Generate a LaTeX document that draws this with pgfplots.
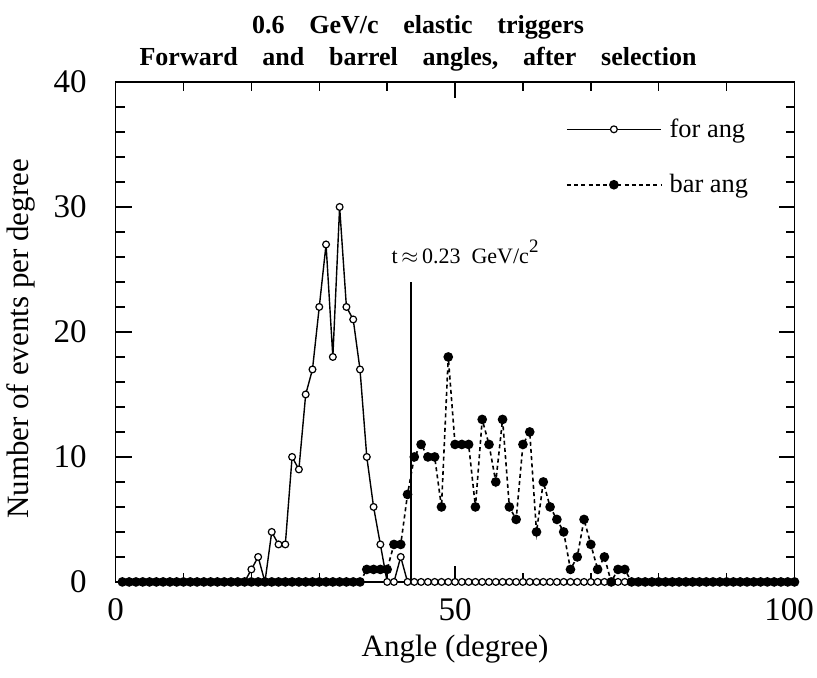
\documentclass[border=0pt]{standalone}
\usepackage{fontspec}
\setmainfont{Liberation Serif}
\usepackage{pgfplots}
\pgfplotsset{compat=1.18}
\usetikzlibrary{calc}
\newcommand{\wsp}{\hspace{0.95em}}
\begin{document}
\begin{tikzpicture}
\begin{axis}[
  name=ax,
  scale only axis, width=339.5pt, height=250pt,
  xmin=0, xmax=100, ymin=0, ymax=40,
  xtick={0,50,100}, minor xtick={10,20,30,40,60,70,80,90},
  xticklabels={0,50,100\hspace*{5.5pt}},
  ytick={0,10,20,30,40}, minor ytick={2,4,6,8,12,14,16,18,22,24,26,28,32,34,36,38},
  tick align=inside, tick pos=both,
  major tick length=8pt, minor tick length=4.5pt,
  every tick/.style={black, line width=0.7pt},
  axis line style={line width=0.8pt},
  /pgf/number format/assume math mode=true,
  tick label style={font=\fontsize{16.5}{18}\selectfont},
  xticklabel style={yshift=-5pt},
  yticklabel style={xshift=-11pt},
  xlabel={Angle (degree)},
  ylabel={Number of events per degree},
  label style={font=\fontsize{15.5}{18}\selectfont},
  xlabel style={yshift=0pt},
  ylabel style={yshift=2.5pt, xshift=-3.5pt},
  title={0.6\wsp GeV/c\wsp elastic\wsp triggers\\Forward\wsp and\wsp barrel\wsp angles,\wsp after\wsp selection},
  title style={align=center, font=\bfseries\fontsize{13}{16}\selectfont, xshift=-18.5pt, yshift=-4pt},
  legend style={draw=none, fill=none, at={(axis cs:66.3,34)}, anchor=west,
    font=\fontsize{13.2}{14}\selectfont, row sep=13pt, inner sep=0pt},
  legend cell align=left,
  legend image code/.code={\draw[mark repeat=2,mark phase=2,#1] plot coordinates {(0pt,0pt) (23.5pt,0pt) (47pt,0pt)};},
]
\addplot[black, line width=0.7pt, mark=*, mark size=1.7pt, mark options={fill=white, solid, line width=0.6pt}] coordinates {
(1,0)(2,0)(3,0)(4,0)(5,0)(6,0)(7,0)(8,0)(9,0)(10,0)(11,0)(12,0)(13,0)(14,0)(15,0)(16,0)(17,0)(18,0)(19,0)
(20,1)(21,2)(22,0)(23,4)(24,3)(25,3)(26,10)(27,9)(28,15)(29,17)(30,22)(31,27)(32,18)(33,30)(34,22)(35,21)
(36,17)(37,10)(38,6)(39,3)(40,0)(41,0)(42,2)
(43,0)(44,0)(45,0)(46,0)(47,0)(48,0)(49,0)(50,0)(51,0)(52,0)(53,0)(54,0)(55,0)(56,0)(57,0)(58,0)(59,0)(60,0)
(61,0)(62,0)(63,0)(64,0)(65,0)(66,0)(67,0)(68,0)(69,0)(70,0)(71,0)(72,0)(73,0)(74,0)(75,0)(76,0)(77,0)(78,0)
(79,0)(80,0)(81,0)(82,0)(83,0)(84,0)(85,0)(86,0)(87,0)(88,0)(89,0)(90,0)(91,0)(92,0)(93,0)(94,0)(95,0)(96,0)
(97,0)(98,0)(99,0)(100,0)
};
\addlegendentry{\hspace{2pt}for ang}
\addplot[black, line width=0.8pt, dash pattern=on 2pt off 1.6pt, mark=*, mark size=2pt, mark options={fill=black, solid}] coordinates {
(1,0)(2,0)(3,0)(4,0)(5,0)(6,0)(7,0)(8,0)(9,0)(10,0)(11,0)(12,0)(13,0)(14,0)(15,0)(16,0)(17,0)(18,0)(19,0)
(20,0)(21,0)(22,0)(23,0)(24,0)(25,0)(26,0)(27,0)(28,0)(29,0)(30,0)(31,0)(32,0)(33,0)(34,0)(35,0)(36,0)
(37,1)(38,1)(39,1)(40,1)(41,3)(42,3)(43,7)(44,10)(45,11)(46,10)(47,10)(48,6)(49,18)(50,11)(51,11)(52,11)
(53,6)(54,13)(55,11)(56,8)(57,13)(58,6)(59,5)(60,11)(61,12)(62,4)(63,8)(64,6)(65,5)(66,4)(67,1)(68,2)
(69,5)(70,3)(71,1)(72,2)(73,0)(74,1)(75,1)
(76,0)(77,0)(78,0)(79,0)(80,0)(81,0)(82,0)(83,0)(84,0)(85,0)(86,0)(87,0)(88,0)(89,0)(90,0)(91,0)(92,0)(93,0)
(94,0)(95,0)(96,0)(97,0)(98,0)(99,0)(100,0)
};
\addlegendentry{\hspace{2pt}bar ang}
\addplot[black, line width=0.8pt, forget plot] coordinates {(43.5,0) (43.5,24)};
\node[anchor=base west, font=\fontsize{11}{12}\selectfont, inner sep=0pt] at (axis cs:40.6,25.5) {t\,$\approx$\,0.23\ \ GeV/c\raisebox{5.5pt}{\fontsize{9.5}{10}\selectfont 2}};
\end{axis}
\pgfresetboundingbox
\path ($(ax.south west)+(-57.8pt,-48pt)$) rectangle ($(ax.north east)+(11.25pt,41pt)$);
\end{tikzpicture}
\end{document}
